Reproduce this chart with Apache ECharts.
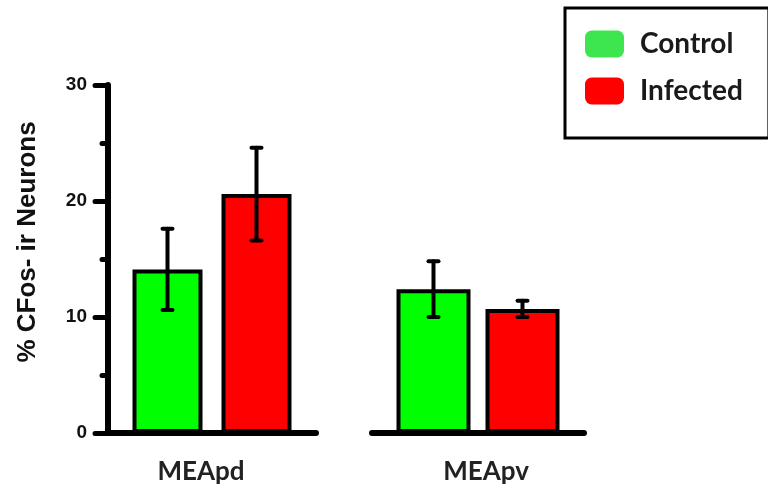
<!DOCTYPE html>
<html><head><meta charset="utf-8">
<script src="https://cdn.jsdelivr.net/npm/echarts@6/dist/echarts.min.js"></script>
<style>html,body{margin:0;padding:0;background:#fff}#c{width:768px;height:491px}</style>
</head><body><div id="c"></div>
<script>
// ---- data ----
var regions = ['MEApd', 'MEApv'];
var seriesNames = ['Control', 'Infected'];
var controlMean = [14.1, 12.4];
var controlSem  = [3.5, 2.4];
var infectedMean = [20.6, 10.7];
var infectedSem  = [4.0, 0.7];
var yTicks = [0, 10, 20, 30];

// ---- styling constants ----
var GREEN = '#00ff00', RED = '#ff0000';
var BAR_SEP = 89;           // distance between bar centres (px)
var BAR_W = [70, 74];       // bar width per group (px)
var OFF = BAR_SEP / 2;
var CAP = 10;

var chart = echarts.init(document.getElementById('c'));

function errRender(sign) {
  return function (params, api) {
    var v = api.value(1), e = api.value(2);
    var c = api.coord([api.value(0), v]);
    var hi = api.coord([api.value(0), v + e]);
    var lo = api.coord([api.value(0), v - e]);
    var x = c[0] + sign * OFF;
    var st = {stroke: '#000', lineWidth: 4, lineCap: 'round'};
    return {type: 'group', children: [
      {type: 'line', shape: {x1: x, y1: hi[1], x2: x, y2: lo[1]}, style: st},
      {type: 'line', shape: {x1: x - CAP / 2, y1: hi[1], x2: x + CAP / 2, y2: hi[1]}, style: st},
      {type: 'line', shape: {x1: x - CAP / 2, y1: lo[1], x2: x + CAP / 2, y2: lo[1]}, style: st}
    ]};
  };
}

var yBase = {
  type: 'value', min: yTicks[0], max: yTicks[yTicks.length - 1], interval: 10,
  splitLine: {show: false}
};

var series = [];
[0, 1].forEach(function (g) {
  var w = BAR_W[g];
  series.push({
    name: seriesNames[0], type: 'bar', xAxisIndex: g, yAxisIndex: g,
    data: [controlMean[g]], barWidth: w, barGap: ((BAR_SEP - w) / w * 100) + '%',
    itemStyle: {color: GREEN, borderColor: '#000', borderWidth: 4}
  });
  series.push({
    name: seriesNames[1], type: 'bar', xAxisIndex: g, yAxisIndex: g,
    data: [infectedMean[g]], barWidth: w,
    itemStyle: {color: RED, borderColor: '#000', borderWidth: 4}
  });
  series.push({
    type: 'custom', xAxisIndex: g, yAxisIndex: g, z: 5, silent: true,
    renderItem: errRender(-1), data: [[0, controlMean[g], controlSem[g]]]
  });
  series.push({
    type: 'custom', xAxisIndex: g, yAxisIndex: g, z: 5, silent: true,
    renderItem: errRender(1), data: [[0, infectedMean[g], infectedSem[g]]]
  });
});

var xLabelBase = {
  color: '#222', fontFamily: 'Lato', fontWeight: 'bold', fontSize: 26, margin: 26
};

chart.setOption({
  animation: false,
  backgroundColor: '#fff',
  grid: [
    {left: 108, right: 452, top: 85, bottom: 58},
    {left: 372, right: 184, top: 85, bottom: 58}
  ],
  xAxis: [
    {type: 'category', gridIndex: 0, data: [regions[0]],
     axisLine: {lineStyle: {color: '#000', width: 6, cap: 'round'}},
     axisTick: {show: false},
     axisLabel: Object.assign({}, xLabelBase, {padding: [0, 22, 0, 0]})},
    {type: 'category', gridIndex: 1, data: [regions[1]],
     axisLine: {lineStyle: {color: '#000', width: 6, cap: 'round'}},
     axisTick: {show: false},
     axisLabel: Object.assign({}, xLabelBase, {padding: [0, 0, 0, 16]})}
  ],
  yAxis: [
    Object.assign({}, yBase, {
      gridIndex: 0,
      axisLine: {show: true, lineStyle: {color: '#000', width: 6, cap: 'round'}},
      axisTick: {show: true, length: 13, lineStyle: {color: '#000', width: 5, cap: 'round'}},
      minorTick: {show: true, splitNumber: 2, length: 6, lineStyle: {color: '#000', width: 5, cap: 'round'}},
      axisLabel: {color: '#111', fontFamily: 'Liberation Sans', fontWeight: 'bold', fontSize: 19, margin: 21}
    }),
    Object.assign({}, yBase, {
      gridIndex: 1, show: false
    })
  ],
  legend: {
    orient: 'vertical', left: 565, top: 8,
    padding: [22, 26, 33, 20],
    borderColor: '#000', borderWidth: 3,
    itemWidth: 39, itemHeight: 27, itemGap: 19,
    icon: 'roundRect',
    itemStyle: {borderWidth: 0},
    textStyle: {color: '#1a1a1a', fontFamily: 'Lato', fontWeight: 'bold', fontSize: 28, padding: [0, 0, 0, 11]},
    data: [
      {name: seriesNames[0], itemStyle: {color: '#3de64f', borderWidth: 0}},
      {name: seriesNames[1], itemStyle: {color: RED, borderWidth: 0}}
    ]
  },
  graphic: [{
    type: 'text', x: 28, y: 242, rotation: Math.PI / 2,
    style: {text: '% CFos- ir Neurons', fill: '#111', font: 'bold 26px "Liberation Sans"',
            textAlign: 'center', textVerticalAlign: 'middle'}
  }],
  series: series
});
</script>
</body></html>
